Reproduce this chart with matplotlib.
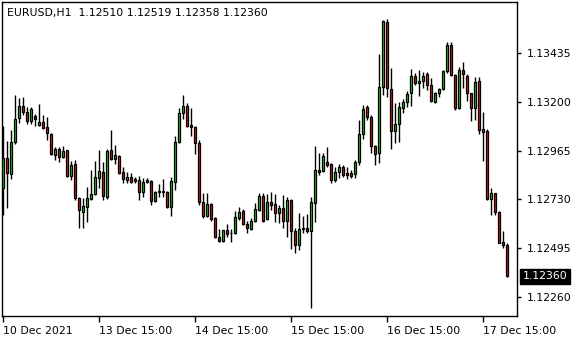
import matplotlib
matplotlib.use("Agg")
import matplotlib.pyplot as plt
from matplotlib.patches import Rectangle

symbol = "EURUSD,H1"

opens = [
    1.12785, 1.12930, 1.12852, 1.13007, 1.13122, 1.13180, 1.13151, 1.13108, 1.13132, 1.13088,
    1.13103, 1.13079, 1.13045, 1.12944, 1.12973, 1.12934, 1.12968, 1.12843, 1.12901, 1.12737,
    1.12669, 1.12694, 1.12732, 1.12756, 1.12833, 1.12862, 1.12742, 1.12968, 1.12925, 1.12939,
    1.12862, 1.12824, 1.12838, 1.12828, 1.12824, 1.12766, 1.12814, 1.12819, 1.12722, 1.12766,
    1.12771, 1.12766, 1.12694, 1.12814, 1.13007, 1.13146, 1.13180, 1.13088, 1.13079, 1.13002,
    1.12718, 1.12650, 1.12708, 1.12641, 1.12549, 1.12530, 1.12583, 1.12567, 1.12568, 1.12641,
    1.12674, 1.12612, 1.12588, 1.12626, 1.12679, 1.12747, 1.12636, 1.12718, 1.12708, 1.12665,
    1.12689, 1.12626, 1.12727, 1.12578, 1.12510, 1.12588, 1.12592, 1.12578, 1.12713, 1.12872,
    1.12867, 1.12910, 1.12901, 1.12824, 1.12862, 1.12886, 1.12857, 1.12857, 1.12852, 1.12910,
    1.13045, 1.13175, 1.13127, 1.12987, 1.12954, 1.13271, 1.13585, 1.13262, 1.13060, 1.13093,
    1.13170, 1.13199, 1.13243, 1.13324, 1.13291, 1.13300, 1.13334, 1.13281, 1.13201, 1.13243,
    1.13262, 1.13349, 1.13474, 1.13329, 1.13170, 1.13353, 1.13327, 1.13241, 1.13170, 1.13300,
    1.13068, 1.13060, 1.12731, 1.12759, 1.12671, 1.12523, 1.12510,
]
highs = [
    1.13084, 1.13011, 1.13064, 1.13233, 1.13219, 1.13223, 1.13175, 1.13175, 1.13141, 1.13190,
    1.13137, 1.13127, 1.13050, 1.12983, 1.12983, 1.12987, 1.12970, 1.12915, 1.12920, 1.12742,
    1.12737, 1.12790, 1.12872, 1.12915, 1.12968, 1.12910, 1.12973, 1.13064, 1.12992, 1.12944,
    1.12886, 1.12862, 1.12857, 1.12838, 1.12843, 1.12833, 1.12833, 1.12824, 1.12771, 1.12804,
    1.12828, 1.12771, 1.12838, 1.13035, 1.13170, 1.13233, 1.13194, 1.13170, 1.13084, 1.13016,
    1.12761, 1.12761, 1.12713, 1.12645, 1.12588, 1.12585, 1.12612, 1.12588, 1.12674, 1.12694,
    1.12684, 1.12626, 1.12641, 1.12713, 1.12761, 1.12761, 1.12756, 1.12766, 1.12756, 1.12703,
    1.12751, 1.12742, 1.12732, 1.12592, 1.12665, 1.12650, 1.12660, 1.12742, 1.12987, 1.12954,
    1.12954, 1.12983, 1.12905, 1.12886, 1.12901, 1.12896, 1.12886, 1.12872, 1.12920, 1.13113,
    1.13185, 1.13185, 1.13137, 1.12992, 1.13430, 1.13594, 1.13599, 1.13363, 1.13194, 1.13199,
    1.13214, 1.13252, 1.13358, 1.13339, 1.13353, 1.13344, 1.13344, 1.13315, 1.13249, 1.13267,
    1.13353, 1.13486, 1.13486, 1.13336, 1.13369, 1.13392, 1.13336, 1.13243, 1.13320, 1.13320,
    1.13150, 1.13069, 1.12784, 1.12761, 1.12676, 1.12579, 1.12519,
]
lows = [
    1.12655, 1.12689, 1.12828, 1.12997, 1.13098, 1.13137, 1.13093, 1.13093, 1.13084, 1.13084,
    1.13069, 1.13016, 1.12944, 1.12920, 1.12910, 1.12930, 1.12838, 1.12824, 1.12727, 1.12592,
    1.12592, 1.12621, 1.12727, 1.12751, 1.12785, 1.12727, 1.12732, 1.12920, 1.12901, 1.12852,
    1.12809, 1.12809, 1.12809, 1.12809, 1.12727, 1.12742, 1.12809, 1.12703, 1.12718, 1.12742,
    1.12742, 1.12689, 1.12650, 1.12775, 1.13002, 1.13117, 1.13079, 1.13035, 1.12949, 1.12703,
    1.12641, 1.12645, 1.12626, 1.12544, 1.12525, 1.12527, 1.12549, 1.12525, 1.12563, 1.12631,
    1.12607, 1.12568, 1.12583, 1.12621, 1.12674, 1.12621, 1.12631, 1.12679, 1.12621, 1.12617,
    1.12592, 1.12549, 1.12491, 1.12472, 1.12486, 1.12568, 1.12568, 1.12207, 1.12621, 1.12848,
    1.12862, 1.12886, 1.12809, 1.12814, 1.12833, 1.12838, 1.12828, 1.12833, 1.12833, 1.12896,
    1.13021, 1.13113, 1.12954, 1.12896, 1.12905, 1.13233, 1.13223, 1.12973, 1.13002, 1.13007,
    1.13146, 1.13175, 1.13180, 1.13281, 1.13228, 1.13267, 1.13257, 1.13199, 1.13194, 1.13225,
    1.13259, 1.13341, 1.13326, 1.13161, 1.13166, 1.13267, 1.13204, 1.13108, 1.13113, 1.13045,
    1.12915, 1.12727, 1.12655, 1.12655, 1.12519, 1.12497, 1.12358,
]
closes = [
    1.12930, 1.12857, 1.13007, 1.13117, 1.13180, 1.13151, 1.13108, 1.13166, 1.13117, 1.13103,
    1.13074, 1.13050, 1.12949, 1.12973, 1.12934, 1.12963, 1.12843, 1.12896, 1.12737, 1.12679,
    1.12698, 1.12737, 1.12756, 1.12838, 1.12867, 1.12747, 1.12963, 1.12925, 1.12944, 1.12857,
    1.12828, 1.12838, 1.12814, 1.12819, 1.12766, 1.12814, 1.12824, 1.12722, 1.12766, 1.12769,
    1.12766, 1.12694, 1.12819, 1.13007, 1.13146, 1.13180, 1.13084, 1.13079, 1.13002, 1.12718,
    1.12650, 1.12708, 1.12636, 1.12549, 1.12530, 1.12583, 1.12563, 1.12570, 1.12645, 1.12669,
    1.12612, 1.12592, 1.12626, 1.12684, 1.12747, 1.12626, 1.12718, 1.12703, 1.12665, 1.12689,
    1.12626, 1.12727, 1.12578, 1.12510, 1.12588, 1.12592, 1.12578, 1.12718, 1.12872, 1.12862,
    1.12939, 1.12896, 1.12824, 1.12862, 1.12886, 1.12848, 1.12850, 1.12843, 1.12910, 1.13045,
    1.13166, 1.13127, 1.12987, 1.12949, 1.13271, 1.13589, 1.13267, 1.13060, 1.13093, 1.13175,
    1.13199, 1.13238, 1.13324, 1.13291, 1.13303, 1.13324, 1.13281, 1.13204, 1.13243, 1.13262,
    1.13349, 1.13474, 1.13329, 1.13170, 1.13353, 1.13334, 1.13245, 1.13170, 1.13296, 1.13064,
    1.13056, 1.12731, 1.12759, 1.12671, 1.12521, 1.12510, 1.12360,
]

price_ticks = [1.12260, 1.12495, 1.12730, 1.12965, 1.13200, 1.13435]
time_labels = ["10 Dec 2021", "13 Dec 15:00", "14 Dec 15:00",
               "15 Dec 15:00", "16 Dec 15:00", "17 Dec 15:00"]
time_bars = [0, 24, 48, 72, 96, 120]

bull = "#1ec81e"
bear = "#d21e1e"

plt.rcParams['font.family'] = ['DejaVu Sans']
fig = plt.figure(figsize=(5.8, 3.4), dpi=100)
ax = fig.add_axes([2 / 580, 24 / 340, 515 / 580, 314 / 340])

n = len(closes)
for i in range(n):
    o, h, l, c = opens[i], highs[i], lows[i], closes[i]
    ax.vlines(i, l, h, color="black", linewidth=1.0)
    col = bull if c >= o else bear
    ax.add_patch(Rectangle((i - 0.25, min(o, c)), 0.5, abs(c - o),
                           facecolor=col, edgecolor="black", linewidth=0.9, zorder=3))

ax.set_xlim(-0.33, 128.4)
ax.set_ylim(1.12169, 1.13681)

for s in ax.spines.values():
    s.set_color("black")
    s.set_linewidth(1.0)

ax.yaxis.tick_right()
ax.set_yticks(price_ticks)
ax.set_yticklabels([f"{p:.5f}" for p in price_ticks])
ax.tick_params(axis="y", direction="out", length=3, width=1, pad=4, labelsize=7.8)

ax.set_xticks(time_bars)
ax.set_xticklabels(time_labels, ha="left")
ax.tick_params(axis="x", direction="out", length=4, width=1, pad=3, labelsize=7.8)
for lab in ax.get_xticklabels():
    lab.set_x(lab.get_position()[0])

# header line
head = f"{symbol}  {opens[-1]:.5f} {highs[-1]:.5f} {lows[-1]:.5f} {closes[-1]:.5f}"
ax.text(0.01, 0.965, head, transform=ax.transAxes, fontsize=7.8,
        va="center", ha="left", color="black")

# last price box
ax.annotate(f"{closes[-1]:.5f}", xy=(1.0, closes[-1]), xycoords=("axes fraction", "data"),
            xytext=(4, 0), textcoords="offset points", fontsize=7.8, color="white",
            va="center", ha="left",
            bbox=dict(boxstyle="square,pad=0.25", facecolor="black", edgecolor="black"))

fig.savefig("out.png", dpi=100, facecolor="white")
